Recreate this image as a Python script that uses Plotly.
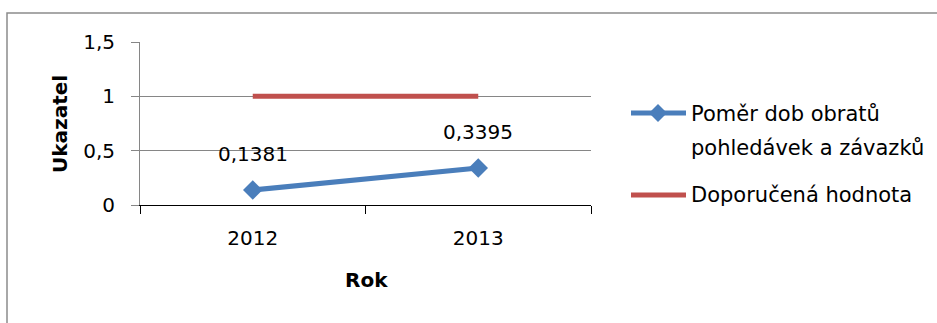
import plotly.graph_objects as go

# Data
years = ["2012", "2013"]
ratio_values = [0.1381, 0.3395]
recommended_values = [1, 1]
series_names = ["Poměr dob obratů pohledávek a závazků", "Doporučená hodnota"]
legend_lines = [["Poměr dob obratů", "pohledávek a závazků"], ["Doporučená hodnota"]]

BLUE = "#4A7EBB"
RED = "#C0504D"
GRID = "#868686"
FONT = "DejaVu Sans"

W, H = 937, 323
L, R, T, B = 140, 346, 42, 118
PW, PH = W - L - R, H - T - B


def px(x):
    return (x - L) / PW


def py(y):
    return (H - B - y) / PH


fig = go.Figure()

fig.add_trace(go.Scatter(
    x=years, y=recommended_values, mode="lines", name=series_names[1],
    line=dict(color=RED, width=5), showlegend=False,
))
fig.add_trace(go.Scatter(
    x=years, y=ratio_values, mode="lines+markers", name=series_names[0],
    line=dict(color=BLUE, width=5),
    marker=dict(symbol="diamond", size=15, color=BLUE),
    showlegend=False,
))

# Value labels above the data points (category index on the x axis)
for i, v in enumerate(ratio_values):
    fig.add_annotation(
        x=i, y=v, xref="x", yref="y", text=f"{v:.4f}".replace(".", ","),
        showarrow=False, yshift=36,
        font=dict(family=FONT, size=20, color="black"),
    )

shapes = []
# Outer frame
shapes.append(dict(type="rect", xref="paper", yref="paper",
                   x0=px(7), x1=px(W + 20), y0=py(13), y1=py(H + 20),
                   line=dict(color="#8C8C8C", width=1.5), layer="below"))

# Legend
legend_rows = [113, 195]
for (color, yrow, has_marker) in [(BLUE, legend_rows[0], True), (RED, legend_rows[1], False)]:
    shapes.append(dict(type="line", xref="paper", yref="paper",
                       x0=px(631), x1=px(686), y0=py(yrow), y1=py(yrow),
                       line=dict(color=color, width=5)))
    if has_marker:
        cx, cy, r = 658, yrow, 9
        path = (f"M {px(cx)} {py(cy - r)} L {px(cx + r)} {py(cy)} "
                f"L {px(cx)} {py(cy + r)} L {px(cx - r)} {py(cy)} Z")
        shapes.append(dict(type="path", xref="paper", yref="paper", path=path,
                           fillcolor=color, line=dict(color=color, width=0)))

text_rows = [(legend_lines[0][0], 114), (legend_lines[0][1], 148), (legend_lines[1][0], 195)]
for txt, yrow in text_rows:
    fig.add_annotation(xref="paper", yref="paper", x=px(689), y=py(yrow),
                       xanchor="left", yanchor="middle", text=txt, showarrow=False,
                       font=dict(family=FONT, size=21, color="black"))

# Axis titles
fig.add_annotation(xref="paper", yref="paper", x=px(60), y=py(124), text="<b>Ukazatel</b>",
                   textangle=-90, showarrow=False, xanchor="center", yanchor="middle",
                   font=dict(family=FONT, size=20, color="black"))
fig.add_annotation(xref="paper", yref="paper", x=px(366), y=py(280), text="<b>Rok</b>",
                   showarrow=False, xanchor="center", yanchor="middle",
                   font=dict(family=FONT, size=20, color="black"))

fig.update_layout(
    width=W, height=H,
    margin=dict(l=L, r=R, t=T, b=B),
    paper_bgcolor="white", plot_bgcolor="white",
    separators=", ",
    showlegend=False,
    shapes=shapes,
    font=dict(family=FONT, size=20, color="black"),
    xaxis=dict(
        type="category", categoryorder="array", categoryarray=years,
        range=[-0.5, 1.5], tickson="boundaries",
        ticks="outside", ticklen=8, tickcolor="black", tickwidth=1.3,
        showline=True, linecolor="black", linewidth=1.3,
        showgrid=False, zeroline=False,
        tickfont=dict(family=FONT, size=20, color="black"),
        ticklabelstandoff=15,
    ),
    yaxis=dict(
        range=[0, 1.5], dtick=0.5, tick0=0,
        ticks="outside", ticklen=8, tickcolor=GRID, tickwidth=1,
        showline=True, linecolor=GRID, linewidth=1,
        showgrid=True, gridcolor=GRID, gridwidth=1, zeroline=False,
        tickfont=dict(family=FONT, size=20, color="black"),
        ticklabelstandoff=12,
    ),
)

fig.write_html("out.html")
